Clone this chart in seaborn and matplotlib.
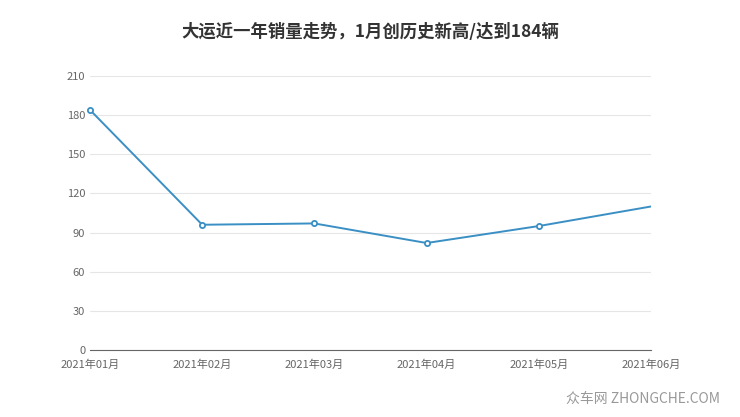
import matplotlib
matplotlib.use("Agg")
import matplotlib.pyplot as plt
import seaborn as sns
import pandas as pd

months = ["2021年01月", "2021年02月", "2021年03月", "2021年04月", "2021年05月", "2021年06月"]
sales = [184, 96, 97, 82, 95, 110]
yticks = [0, 30, 60, 90, 120, 150, 180, 210]

sns.set_style("white")
plt.rcParams['font.family'] = ['Noto Sans CJK SC', 'DejaVu Sans']

df = pd.DataFrame({"x": range(len(months)), "y": sales})
fig = plt.figure(figsize=(7.4, 4.17), dpi=100)
ax = fig.add_axes([90/740, 1-350/417, (651-90)/740, (350-76)/417])
sns.lineplot(data=df, x="x", y="y", ax=ax, color="#3a8fc4", linewidth=1.4)
ax.scatter(df["x"][:-1], df["y"][:-1], s=14, facecolor="white", edgecolor="#3a8fc4",
           linewidth=1.3, zorder=3, clip_on=False)
ax.set_xlim(0, len(months)-1)
ax.set_ylim(0, 210)
ax.set_yticks(yticks)
ax.set_xticks(range(len(months)))
ax.set_xticklabels(months)
ax.tick_params(axis='both', labelsize=8, colors="#666666", length=0)
ax.tick_params(axis='x', length=4, color="#666666", pad=3)
ax.grid(axis='y', color="#e6e6e6", linewidth=0.8)
for s in ["top", "right", "left"]:
    ax.spines[s].set_visible(False)
ax.spines["bottom"].set_color("#666666")
ax.set_xlabel("")
ax.set_ylabel("")
fig.text(0.5, 1-32/417, "大运近一年销量走势，1月创历史新高/达到184辆", ha="center", va="center",
         fontsize=12.5, fontweight="bold", color="#333333")
fig.text(720/740, 1-399/417, "众车网 ZHONGCHE.COM", ha="right", va="center", fontsize=10, color="#999999")
fig.savefig("out.png", dpi=100)
